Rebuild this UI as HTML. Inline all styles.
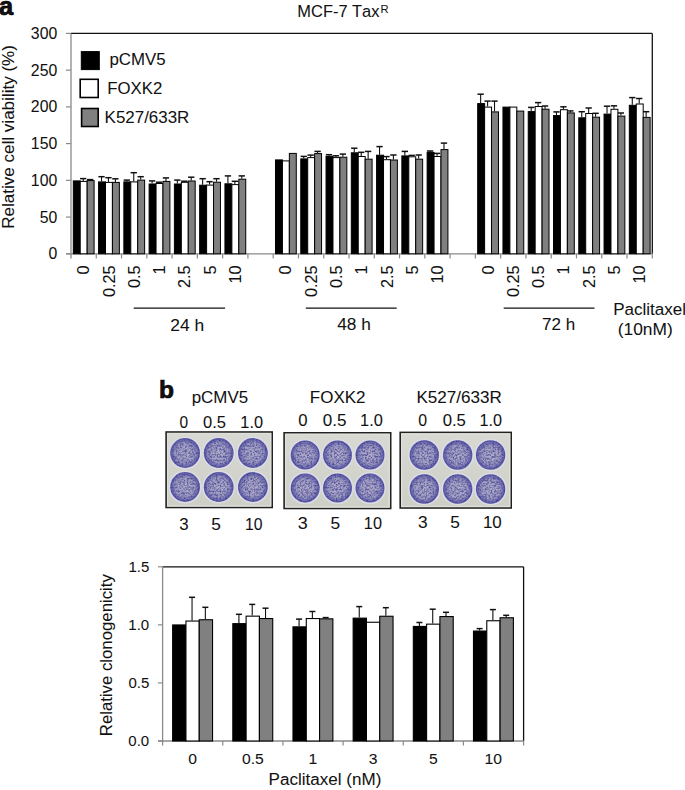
<!DOCTYPE html><html><head><meta charset="utf-8"><style>
html,body{margin:0;padding:0;background:#fff;}body{width:685px;height:790px;overflow:hidden;}
svg{display:block;} text{font-family:"Liberation Sans", sans-serif;font-kerning:none;fill:#111;stroke:#111;stroke-width:0.05px;}
</style></head><body>
<svg width="685" height="790" viewBox="0 0 685 790">
<defs>
<radialGradient id="well" cx="50%" cy="50%" r="50%">
<stop offset="0%" stop-color="#b2b1cb"/>
<stop offset="65%" stop-color="#a3a2c4"/>
<stop offset="100%" stop-color="#8a89b8"/>
</radialGradient>
<radialGradient id="rim" cx="50%" cy="50%" r="50%">
<stop offset="0%" stop-color="#3c3a96" stop-opacity="0"/>
<stop offset="65%" stop-color="#3c3a96" stop-opacity="0.05"/>
<stop offset="88%" stop-color="#3c3a96" stop-opacity="0.4"/>
<stop offset="96%" stop-color="#36349a" stop-opacity="0.6"/>
<stop offset="100%" stop-color="#5050a0" stop-opacity="0.4"/>
</radialGradient>
<linearGradient id="plate" x1="0" y1="0" x2="0" y2="1">
<stop offset="0%" stop-color="#d8d9d2"/>
<stop offset="100%" stop-color="#cdcfc7"/>
</linearGradient>
<filter id="spk" x="0" y="0" width="100%" height="100%" color-interpolation-filters="sRGB">
<feTurbulence type="fractalNoise" baseFrequency="0.55" numOctaves="3" seed="11" result="n"/>
<feColorMatrix in="n" type="matrix" values="0 0 0 0 0.34  0 0 0 0 0.32  0 0 0 0 0.60  2.5 0 0 0 -0.95" result="w"/>
<feGaussianBlur in="w" stdDeviation="0.35" result="wb"/>
<feComposite in="wb" in2="SourceGraphic" operator="in"/>
</filter>
</defs>
<text x="-0.9" y="14.8" font-size="25.5" font-weight="bold" fill="#000" style="stroke:#000;stroke-width:0.7px">a</text>
<text transform="translate(297.35,17.30) scale(1.0395,1)" font-size="15.8">MCF-7 Tax</text>
<text x="380.6" y="12.7" font-size="11.2">R</text>
<line x1="71.0" y1="33.4" x2="652.3" y2="33.4" stroke="#111" stroke-width="1.3"/>
<line x1="652.3" y1="33.4" x2="652.3" y2="253.8" stroke="#111" stroke-width="1.3"/>
<line x1="66" y1="253.80" x2="71.0" y2="253.80" stroke="#8a8a8a" stroke-width="1.2"/>
<text transform="translate(48.43,259.40) scale(1.0000,1)" font-size="15.8">0</text>
<line x1="66" y1="217.07" x2="71.0" y2="217.07" stroke="#8a8a8a" stroke-width="1.2"/>
<text transform="translate(39.64,222.67) scale(1.0000,1)" font-size="15.8">50</text>
<line x1="66" y1="180.33" x2="71.0" y2="180.33" stroke="#8a8a8a" stroke-width="1.2"/>
<text transform="translate(30.86,185.93) scale(1.0000,1)" font-size="15.8">100</text>
<line x1="66" y1="143.60" x2="71.0" y2="143.60" stroke="#8a8a8a" stroke-width="1.2"/>
<text transform="translate(30.86,149.20) scale(1.0000,1)" font-size="15.8">150</text>
<line x1="66" y1="106.87" x2="71.0" y2="106.87" stroke="#8a8a8a" stroke-width="1.2"/>
<text transform="translate(30.86,112.47) scale(1.0000,1)" font-size="15.8">200</text>
<line x1="66" y1="70.13" x2="71.0" y2="70.13" stroke="#8a8a8a" stroke-width="1.2"/>
<text transform="translate(30.86,75.73) scale(1.0000,1)" font-size="15.8">250</text>
<line x1="66" y1="33.40" x2="71.0" y2="33.40" stroke="#8a8a8a" stroke-width="1.2"/>
<text transform="translate(30.86,39.00) scale(1.0000,1)" font-size="15.8">300</text>
<line x1="66" y1="253.8" x2="652.3" y2="253.8" stroke="#8a8a8a" stroke-width="1.3"/>
<line x1="71.0" y1="33.4" x2="71.0" y2="258.40000000000003" stroke="#8a8a8a" stroke-width="1.3"/>
<line x1="96.27" y1="253.8" x2="96.27" y2="258.40000000000003" stroke="#8a8a8a" stroke-width="1.2"/>
<line x1="121.55" y1="253.8" x2="121.55" y2="258.40000000000003" stroke="#8a8a8a" stroke-width="1.2"/>
<line x1="146.82" y1="253.8" x2="146.82" y2="258.40000000000003" stroke="#8a8a8a" stroke-width="1.2"/>
<line x1="172.10" y1="253.8" x2="172.10" y2="258.40000000000003" stroke="#8a8a8a" stroke-width="1.2"/>
<line x1="197.37" y1="253.8" x2="197.37" y2="258.40000000000003" stroke="#8a8a8a" stroke-width="1.2"/>
<line x1="222.64" y1="253.8" x2="222.64" y2="258.40000000000003" stroke="#8a8a8a" stroke-width="1.2"/>
<line x1="247.92" y1="253.8" x2="247.92" y2="258.40000000000003" stroke="#8a8a8a" stroke-width="1.2"/>
<line x1="273.19" y1="253.8" x2="273.19" y2="258.40000000000003" stroke="#8a8a8a" stroke-width="1.2"/>
<line x1="298.47" y1="253.8" x2="298.47" y2="258.40000000000003" stroke="#8a8a8a" stroke-width="1.2"/>
<line x1="323.74" y1="253.8" x2="323.74" y2="258.40000000000003" stroke="#8a8a8a" stroke-width="1.2"/>
<line x1="349.01" y1="253.8" x2="349.01" y2="258.40000000000003" stroke="#8a8a8a" stroke-width="1.2"/>
<line x1="374.29" y1="253.8" x2="374.29" y2="258.40000000000003" stroke="#8a8a8a" stroke-width="1.2"/>
<line x1="399.56" y1="253.8" x2="399.56" y2="258.40000000000003" stroke="#8a8a8a" stroke-width="1.2"/>
<line x1="424.83" y1="253.8" x2="424.83" y2="258.40000000000003" stroke="#8a8a8a" stroke-width="1.2"/>
<line x1="450.11" y1="253.8" x2="450.11" y2="258.40000000000003" stroke="#8a8a8a" stroke-width="1.2"/>
<line x1="475.38" y1="253.8" x2="475.38" y2="258.40000000000003" stroke="#8a8a8a" stroke-width="1.2"/>
<line x1="500.66" y1="253.8" x2="500.66" y2="258.40000000000003" stroke="#8a8a8a" stroke-width="1.2"/>
<line x1="525.93" y1="253.8" x2="525.93" y2="258.40000000000003" stroke="#8a8a8a" stroke-width="1.2"/>
<line x1="551.20" y1="253.8" x2="551.20" y2="258.40000000000003" stroke="#8a8a8a" stroke-width="1.2"/>
<line x1="576.48" y1="253.8" x2="576.48" y2="258.40000000000003" stroke="#8a8a8a" stroke-width="1.2"/>
<line x1="601.75" y1="253.8" x2="601.75" y2="258.40000000000003" stroke="#8a8a8a" stroke-width="1.2"/>
<line x1="627.03" y1="253.8" x2="627.03" y2="258.40000000000003" stroke="#8a8a8a" stroke-width="1.2"/>
<line x1="652.30" y1="253.8" x2="652.30" y2="258.40000000000003" stroke="#8a8a8a" stroke-width="1.2"/>
<rect x="73.30" y="180.90" width="6.93" height="72.90" fill="#000000" stroke="#000" stroke-width="1.0"/>
<line x1="83.19" y1="180.90" x2="83.19" y2="178.60" stroke="#111" stroke-width="1.1"/>
<line x1="80.04" y1="178.60" x2="86.34" y2="178.60" stroke="#111" stroke-width="1.5"/>
<rect x="80.23" y="181.40" width="6.93" height="72.40" fill="#ffffff" stroke="#000" stroke-width="1.0"/>
<line x1="90.12" y1="180.10" x2="90.12" y2="179.60" stroke="#111" stroke-width="1.1"/>
<line x1="86.97" y1="179.60" x2="93.28" y2="179.60" stroke="#111" stroke-width="1.5"/>
<rect x="87.16" y="180.60" width="6.93" height="73.20" fill="#808080" stroke="#000" stroke-width="1.0"/>
<line x1="101.54" y1="181.40" x2="101.54" y2="176.70" stroke="#111" stroke-width="1.1"/>
<line x1="98.39" y1="176.70" x2="104.69" y2="176.70" stroke="#111" stroke-width="1.5"/>
<rect x="98.57" y="181.90" width="6.93" height="71.90" fill="#000000" stroke="#000" stroke-width="1.0"/>
<line x1="108.47" y1="181.90" x2="108.47" y2="177.70" stroke="#111" stroke-width="1.1"/>
<line x1="105.32" y1="177.70" x2="111.62" y2="177.70" stroke="#111" stroke-width="1.5"/>
<rect x="105.50" y="182.40" width="6.93" height="71.40" fill="#ffffff" stroke="#000" stroke-width="1.0"/>
<line x1="115.40" y1="181.90" x2="115.40" y2="178.80" stroke="#111" stroke-width="1.1"/>
<line x1="112.25" y1="178.80" x2="118.55" y2="178.80" stroke="#111" stroke-width="1.5"/>
<rect x="112.43" y="182.40" width="6.93" height="71.40" fill="#808080" stroke="#000" stroke-width="1.0"/>
<line x1="126.81" y1="181.40" x2="126.81" y2="180.10" stroke="#111" stroke-width="1.1"/>
<line x1="123.66" y1="180.10" x2="129.96" y2="180.10" stroke="#111" stroke-width="1.5"/>
<rect x="123.85" y="181.90" width="6.93" height="71.90" fill="#000000" stroke="#000" stroke-width="1.0"/>
<line x1="133.74" y1="181.40" x2="133.74" y2="172.70" stroke="#111" stroke-width="1.1"/>
<line x1="130.59" y1="172.70" x2="136.89" y2="172.70" stroke="#111" stroke-width="1.5"/>
<rect x="130.78" y="181.90" width="6.93" height="71.90" fill="#ffffff" stroke="#000" stroke-width="1.0"/>
<line x1="140.67" y1="179.60" x2="140.67" y2="176.70" stroke="#111" stroke-width="1.1"/>
<line x1="137.52" y1="176.70" x2="143.82" y2="176.70" stroke="#111" stroke-width="1.5"/>
<rect x="137.71" y="180.10" width="6.93" height="73.70" fill="#808080" stroke="#000" stroke-width="1.0"/>
<line x1="152.09" y1="183.50" x2="152.09" y2="180.90" stroke="#111" stroke-width="1.1"/>
<line x1="148.94" y1="180.90" x2="155.24" y2="180.90" stroke="#111" stroke-width="1.5"/>
<rect x="149.12" y="184.00" width="6.93" height="69.80" fill="#000000" stroke="#000" stroke-width="1.0"/>
<line x1="159.02" y1="183.00" x2="159.02" y2="182.20" stroke="#111" stroke-width="1.1"/>
<line x1="155.87" y1="182.20" x2="162.17" y2="182.20" stroke="#111" stroke-width="1.5"/>
<rect x="156.05" y="183.50" width="6.93" height="70.30" fill="#ffffff" stroke="#000" stroke-width="1.0"/>
<line x1="165.95" y1="180.90" x2="165.95" y2="177.90" stroke="#111" stroke-width="1.1"/>
<line x1="162.80" y1="177.90" x2="169.10" y2="177.90" stroke="#111" stroke-width="1.5"/>
<rect x="162.98" y="181.40" width="6.93" height="72.40" fill="#808080" stroke="#000" stroke-width="1.0"/>
<line x1="177.36" y1="183.50" x2="177.36" y2="180.10" stroke="#111" stroke-width="1.1"/>
<line x1="174.21" y1="180.10" x2="180.51" y2="180.10" stroke="#111" stroke-width="1.5"/>
<rect x="174.40" y="184.00" width="6.93" height="69.80" fill="#000000" stroke="#000" stroke-width="1.0"/>
<line x1="184.29" y1="181.80" x2="184.29" y2="181.20" stroke="#111" stroke-width="1.1"/>
<line x1="181.14" y1="181.20" x2="187.44" y2="181.20" stroke="#111" stroke-width="1.5"/>
<rect x="181.33" y="182.30" width="6.93" height="71.50" fill="#ffffff" stroke="#000" stroke-width="1.0"/>
<line x1="191.22" y1="180.50" x2="191.22" y2="177.20" stroke="#111" stroke-width="1.1"/>
<line x1="188.07" y1="177.20" x2="194.37" y2="177.20" stroke="#111" stroke-width="1.5"/>
<rect x="188.26" y="181.00" width="6.93" height="72.80" fill="#808080" stroke="#000" stroke-width="1.0"/>
<line x1="202.63" y1="184.70" x2="202.63" y2="178.70" stroke="#111" stroke-width="1.1"/>
<line x1="199.48" y1="178.70" x2="205.78" y2="178.70" stroke="#111" stroke-width="1.5"/>
<rect x="199.67" y="185.20" width="6.93" height="68.60" fill="#000000" stroke="#000" stroke-width="1.0"/>
<line x1="209.56" y1="184.60" x2="209.56" y2="181.70" stroke="#111" stroke-width="1.1"/>
<line x1="206.41" y1="181.70" x2="212.71" y2="181.70" stroke="#111" stroke-width="1.5"/>
<rect x="206.60" y="185.10" width="6.93" height="68.70" fill="#ffffff" stroke="#000" stroke-width="1.0"/>
<line x1="216.49" y1="181.70" x2="216.49" y2="178.70" stroke="#111" stroke-width="1.1"/>
<line x1="213.34" y1="178.70" x2="219.64" y2="178.70" stroke="#111" stroke-width="1.5"/>
<rect x="213.53" y="182.20" width="6.93" height="71.60" fill="#808080" stroke="#000" stroke-width="1.0"/>
<line x1="227.91" y1="183.30" x2="227.91" y2="175.90" stroke="#111" stroke-width="1.1"/>
<line x1="224.76" y1="175.90" x2="231.06" y2="175.90" stroke="#111" stroke-width="1.5"/>
<rect x="224.94" y="183.80" width="6.93" height="70.00" fill="#000000" stroke="#000" stroke-width="1.0"/>
<line x1="234.84" y1="184.10" x2="234.84" y2="181.30" stroke="#111" stroke-width="1.1"/>
<line x1="231.69" y1="181.30" x2="237.99" y2="181.30" stroke="#111" stroke-width="1.5"/>
<rect x="231.87" y="184.60" width="6.93" height="69.20" fill="#ffffff" stroke="#000" stroke-width="1.0"/>
<line x1="241.77" y1="178.70" x2="241.77" y2="175.90" stroke="#111" stroke-width="1.1"/>
<line x1="238.62" y1="175.90" x2="244.92" y2="175.90" stroke="#111" stroke-width="1.5"/>
<rect x="238.80" y="179.20" width="6.93" height="74.60" fill="#808080" stroke="#000" stroke-width="1.0"/>
<rect x="275.49" y="159.90" width="6.93" height="93.90" fill="#000000" stroke="#000" stroke-width="1.0"/>
<rect x="282.42" y="160.90" width="6.93" height="92.90" fill="#ffffff" stroke="#000" stroke-width="1.0"/>
<rect x="289.35" y="153.40" width="6.93" height="100.40" fill="#808080" stroke="#000" stroke-width="1.0"/>
<line x1="303.73" y1="158.40" x2="303.73" y2="156.40" stroke="#111" stroke-width="1.1"/>
<line x1="300.58" y1="156.40" x2="306.88" y2="156.40" stroke="#111" stroke-width="1.5"/>
<rect x="300.77" y="158.90" width="6.93" height="94.90" fill="#000000" stroke="#000" stroke-width="1.0"/>
<line x1="310.66" y1="157.10" x2="310.66" y2="155.10" stroke="#111" stroke-width="1.1"/>
<line x1="307.51" y1="155.10" x2="313.81" y2="155.10" stroke="#111" stroke-width="1.5"/>
<rect x="307.70" y="157.60" width="6.93" height="96.20" fill="#ffffff" stroke="#000" stroke-width="1.0"/>
<line x1="317.59" y1="153.10" x2="317.59" y2="151.40" stroke="#111" stroke-width="1.1"/>
<line x1="314.44" y1="151.40" x2="320.74" y2="151.40" stroke="#111" stroke-width="1.5"/>
<rect x="314.63" y="153.60" width="6.93" height="100.20" fill="#808080" stroke="#000" stroke-width="1.0"/>
<line x1="329.00" y1="155.80" x2="329.00" y2="154.70" stroke="#111" stroke-width="1.1"/>
<line x1="325.85" y1="154.70" x2="332.15" y2="154.70" stroke="#111" stroke-width="1.5"/>
<rect x="326.04" y="156.30" width="6.93" height="97.50" fill="#000000" stroke="#000" stroke-width="1.0"/>
<line x1="335.93" y1="157.10" x2="335.93" y2="155.80" stroke="#111" stroke-width="1.1"/>
<line x1="332.78" y1="155.80" x2="339.08" y2="155.80" stroke="#111" stroke-width="1.5"/>
<rect x="332.97" y="157.60" width="6.93" height="96.20" fill="#ffffff" stroke="#000" stroke-width="1.0"/>
<line x1="342.86" y1="156.70" x2="342.86" y2="154.10" stroke="#111" stroke-width="1.1"/>
<line x1="339.71" y1="154.10" x2="346.01" y2="154.10" stroke="#111" stroke-width="1.5"/>
<rect x="339.90" y="157.20" width="6.93" height="96.60" fill="#808080" stroke="#000" stroke-width="1.0"/>
<line x1="354.28" y1="152.30" x2="354.28" y2="148.20" stroke="#111" stroke-width="1.1"/>
<line x1="351.13" y1="148.20" x2="357.43" y2="148.20" stroke="#111" stroke-width="1.5"/>
<rect x="351.31" y="152.80" width="6.93" height="101.00" fill="#000000" stroke="#000" stroke-width="1.0"/>
<line x1="361.21" y1="156.00" x2="361.21" y2="152.30" stroke="#111" stroke-width="1.1"/>
<line x1="358.06" y1="152.30" x2="364.36" y2="152.30" stroke="#111" stroke-width="1.5"/>
<rect x="358.24" y="156.50" width="6.93" height="97.30" fill="#ffffff" stroke="#000" stroke-width="1.0"/>
<line x1="368.14" y1="158.70" x2="368.14" y2="151.40" stroke="#111" stroke-width="1.1"/>
<line x1="364.99" y1="151.40" x2="371.29" y2="151.40" stroke="#111" stroke-width="1.5"/>
<rect x="365.17" y="159.20" width="6.93" height="94.60" fill="#808080" stroke="#000" stroke-width="1.0"/>
<line x1="379.55" y1="154.70" x2="379.55" y2="146.60" stroke="#111" stroke-width="1.1"/>
<line x1="376.40" y1="146.60" x2="382.70" y2="146.60" stroke="#111" stroke-width="1.5"/>
<rect x="376.59" y="155.20" width="6.93" height="98.60" fill="#000000" stroke="#000" stroke-width="1.0"/>
<line x1="386.48" y1="159.20" x2="386.48" y2="156.60" stroke="#111" stroke-width="1.1"/>
<line x1="383.33" y1="156.60" x2="389.63" y2="156.60" stroke="#111" stroke-width="1.5"/>
<rect x="383.52" y="159.70" width="6.93" height="94.10" fill="#ffffff" stroke="#000" stroke-width="1.0"/>
<line x1="393.41" y1="159.50" x2="393.41" y2="155.00" stroke="#111" stroke-width="1.1"/>
<line x1="390.26" y1="155.00" x2="396.56" y2="155.00" stroke="#111" stroke-width="1.5"/>
<rect x="390.45" y="160.00" width="6.93" height="93.80" fill="#808080" stroke="#000" stroke-width="1.0"/>
<line x1="404.83" y1="155.40" x2="404.83" y2="151.40" stroke="#111" stroke-width="1.1"/>
<line x1="401.68" y1="151.40" x2="407.98" y2="151.40" stroke="#111" stroke-width="1.5"/>
<rect x="401.86" y="155.90" width="6.93" height="97.90" fill="#000000" stroke="#000" stroke-width="1.0"/>
<line x1="411.76" y1="156.30" x2="411.76" y2="155.40" stroke="#111" stroke-width="1.1"/>
<line x1="408.61" y1="155.40" x2="414.91" y2="155.40" stroke="#111" stroke-width="1.5"/>
<rect x="408.79" y="156.80" width="6.93" height="97.00" fill="#ffffff" stroke="#000" stroke-width="1.0"/>
<line x1="418.69" y1="158.70" x2="418.69" y2="155.00" stroke="#111" stroke-width="1.1"/>
<line x1="415.54" y1="155.00" x2="421.84" y2="155.00" stroke="#111" stroke-width="1.5"/>
<rect x="415.72" y="159.20" width="6.93" height="94.60" fill="#808080" stroke="#000" stroke-width="1.0"/>
<line x1="430.10" y1="151.90" x2="430.10" y2="151.00" stroke="#111" stroke-width="1.1"/>
<line x1="426.95" y1="151.00" x2="433.25" y2="151.00" stroke="#111" stroke-width="1.5"/>
<rect x="427.13" y="152.40" width="6.93" height="101.40" fill="#000000" stroke="#000" stroke-width="1.0"/>
<line x1="437.03" y1="156.00" x2="437.03" y2="153.40" stroke="#111" stroke-width="1.1"/>
<line x1="433.88" y1="153.40" x2="440.18" y2="153.40" stroke="#111" stroke-width="1.5"/>
<rect x="434.06" y="156.50" width="6.93" height="97.30" fill="#ffffff" stroke="#000" stroke-width="1.0"/>
<line x1="443.96" y1="149.10" x2="443.96" y2="143.10" stroke="#111" stroke-width="1.1"/>
<line x1="440.81" y1="143.10" x2="447.11" y2="143.10" stroke="#111" stroke-width="1.5"/>
<rect x="440.99" y="149.60" width="6.93" height="104.20" fill="#808080" stroke="#000" stroke-width="1.0"/>
<line x1="480.65" y1="103.10" x2="480.65" y2="94.20" stroke="#111" stroke-width="1.1"/>
<line x1="477.50" y1="94.20" x2="483.80" y2="94.20" stroke="#111" stroke-width="1.5"/>
<rect x="477.68" y="103.60" width="6.93" height="150.20" fill="#000000" stroke="#000" stroke-width="1.0"/>
<line x1="487.58" y1="106.60" x2="487.58" y2="101.10" stroke="#111" stroke-width="1.1"/>
<line x1="484.43" y1="101.10" x2="490.73" y2="101.10" stroke="#111" stroke-width="1.5"/>
<rect x="484.61" y="107.10" width="6.93" height="146.70" fill="#ffffff" stroke="#000" stroke-width="1.0"/>
<line x1="494.51" y1="111.40" x2="494.51" y2="101.10" stroke="#111" stroke-width="1.1"/>
<line x1="491.36" y1="101.10" x2="497.66" y2="101.10" stroke="#111" stroke-width="1.5"/>
<rect x="491.54" y="111.90" width="6.93" height="141.90" fill="#808080" stroke="#000" stroke-width="1.0"/>
<rect x="502.96" y="107.10" width="6.93" height="146.70" fill="#000000" stroke="#000" stroke-width="1.0"/>
<rect x="509.89" y="107.10" width="6.93" height="146.70" fill="#ffffff" stroke="#000" stroke-width="1.0"/>
<rect x="516.82" y="111.10" width="6.93" height="142.70" fill="#808080" stroke="#000" stroke-width="1.0"/>
<line x1="531.20" y1="111.10" x2="531.20" y2="107.40" stroke="#111" stroke-width="1.1"/>
<line x1="528.05" y1="107.40" x2="534.35" y2="107.40" stroke="#111" stroke-width="1.5"/>
<rect x="528.23" y="111.60" width="6.93" height="142.20" fill="#000000" stroke="#000" stroke-width="1.0"/>
<line x1="538.13" y1="106.00" x2="538.13" y2="102.60" stroke="#111" stroke-width="1.1"/>
<line x1="534.98" y1="102.60" x2="541.28" y2="102.60" stroke="#111" stroke-width="1.5"/>
<rect x="535.16" y="106.50" width="6.93" height="147.30" fill="#ffffff" stroke="#000" stroke-width="1.0"/>
<line x1="545.06" y1="108.70" x2="545.06" y2="106.00" stroke="#111" stroke-width="1.1"/>
<line x1="541.91" y1="106.00" x2="548.21" y2="106.00" stroke="#111" stroke-width="1.5"/>
<rect x="542.09" y="109.20" width="6.93" height="144.60" fill="#808080" stroke="#000" stroke-width="1.0"/>
<line x1="556.47" y1="115.10" x2="556.47" y2="111.90" stroke="#111" stroke-width="1.1"/>
<line x1="553.32" y1="111.90" x2="559.62" y2="111.90" stroke="#111" stroke-width="1.5"/>
<rect x="553.50" y="115.60" width="6.93" height="138.20" fill="#000000" stroke="#000" stroke-width="1.0"/>
<line x1="563.40" y1="109.20" x2="563.40" y2="106.80" stroke="#111" stroke-width="1.1"/>
<line x1="560.25" y1="106.80" x2="566.55" y2="106.80" stroke="#111" stroke-width="1.5"/>
<rect x="560.43" y="109.70" width="6.93" height="144.10" fill="#ffffff" stroke="#000" stroke-width="1.0"/>
<line x1="570.33" y1="112.40" x2="570.33" y2="110.90" stroke="#111" stroke-width="1.1"/>
<line x1="567.18" y1="110.90" x2="573.48" y2="110.90" stroke="#111" stroke-width="1.5"/>
<rect x="567.36" y="112.90" width="6.93" height="140.90" fill="#808080" stroke="#000" stroke-width="1.0"/>
<line x1="581.74" y1="117.30" x2="581.74" y2="111.70" stroke="#111" stroke-width="1.1"/>
<line x1="578.59" y1="111.70" x2="584.89" y2="111.70" stroke="#111" stroke-width="1.5"/>
<rect x="578.78" y="117.80" width="6.93" height="136.00" fill="#000000" stroke="#000" stroke-width="1.0"/>
<line x1="588.67" y1="113.00" x2="588.67" y2="108.00" stroke="#111" stroke-width="1.1"/>
<line x1="585.52" y1="108.00" x2="591.82" y2="108.00" stroke="#111" stroke-width="1.5"/>
<rect x="585.71" y="113.50" width="6.93" height="140.30" fill="#ffffff" stroke="#000" stroke-width="1.0"/>
<line x1="595.60" y1="116.70" x2="595.60" y2="113.30" stroke="#111" stroke-width="1.1"/>
<line x1="592.45" y1="113.30" x2="598.75" y2="113.30" stroke="#111" stroke-width="1.5"/>
<rect x="592.64" y="117.20" width="6.93" height="136.60" fill="#808080" stroke="#000" stroke-width="1.0"/>
<line x1="607.02" y1="113.60" x2="607.02" y2="106.20" stroke="#111" stroke-width="1.1"/>
<line x1="603.87" y1="106.20" x2="610.17" y2="106.20" stroke="#111" stroke-width="1.5"/>
<rect x="604.05" y="114.10" width="6.93" height="139.70" fill="#000000" stroke="#000" stroke-width="1.0"/>
<line x1="613.95" y1="108.80" x2="613.95" y2="105.80" stroke="#111" stroke-width="1.1"/>
<line x1="610.80" y1="105.80" x2="617.10" y2="105.80" stroke="#111" stroke-width="1.5"/>
<rect x="610.98" y="109.30" width="6.93" height="144.50" fill="#ffffff" stroke="#000" stroke-width="1.0"/>
<line x1="620.88" y1="115.60" x2="620.88" y2="113.00" stroke="#111" stroke-width="1.1"/>
<line x1="617.73" y1="113.00" x2="624.03" y2="113.00" stroke="#111" stroke-width="1.5"/>
<rect x="617.91" y="116.10" width="6.93" height="137.70" fill="#808080" stroke="#000" stroke-width="1.0"/>
<line x1="632.29" y1="104.80" x2="632.29" y2="97.60" stroke="#111" stroke-width="1.1"/>
<line x1="629.14" y1="97.60" x2="635.44" y2="97.60" stroke="#111" stroke-width="1.5"/>
<rect x="629.33" y="105.30" width="6.93" height="148.50" fill="#000000" stroke="#000" stroke-width="1.0"/>
<line x1="639.22" y1="103.50" x2="639.22" y2="98.50" stroke="#111" stroke-width="1.1"/>
<line x1="636.07" y1="98.50" x2="642.37" y2="98.50" stroke="#111" stroke-width="1.5"/>
<rect x="636.26" y="104.00" width="6.93" height="149.80" fill="#ffffff" stroke="#000" stroke-width="1.0"/>
<line x1="646.15" y1="116.90" x2="646.15" y2="111.70" stroke="#111" stroke-width="1.1"/>
<line x1="643.00" y1="111.70" x2="649.30" y2="111.70" stroke="#111" stroke-width="1.5"/>
<rect x="643.19" y="117.40" width="6.93" height="136.40" fill="#808080" stroke="#000" stroke-width="1.0"/>
<rect x="81.3" y="51.6" width="18" height="18" fill="#000" stroke="#000" stroke-width="1"/>
<rect x="80.2" y="79.3" width="18" height="18.2" fill="#fff" stroke="#000" stroke-width="1.6"/>
<rect x="81.6" y="108.5" width="16.6" height="18" fill="#808080" stroke="#000" stroke-width="1.6"/>
<text transform="translate(109.41,64.90) scale(1.0403,1)" font-size="16.2">pCMV5</text>
<text transform="translate(107.22,94.40) scale(1.0358,1)" font-size="16.2">FOXK2</text>
<text transform="translate(104.61,123.20) scale(1.0330,1)" font-size="16.4">K527/633R</text>
<text transform="translate(13.5,136.9) rotate(-90)" font-size="16.6" text-anchor="middle" textLength="183.6" lengthAdjust="spacingAndGlyphs">Relative cell viability (%)</text>
<text transform="translate(89.24,265.4) rotate(-90)" font-size="16.3" text-anchor="end">0</text>
<text transform="translate(114.51,265.4) rotate(-90)" font-size="16.3" text-anchor="end">0.25</text>
<text transform="translate(139.78,265.4) rotate(-90)" font-size="16.3" text-anchor="end">0.5</text>
<text transform="translate(165.06,265.4) rotate(-90)" font-size="16.3" text-anchor="end">1</text>
<text transform="translate(190.33,265.4) rotate(-90)" font-size="16.3" text-anchor="end">2.5</text>
<text transform="translate(215.61,265.4) rotate(-90)" font-size="16.3" text-anchor="end">5</text>
<text transform="translate(240.88,265.4) rotate(-90)" font-size="16.3" text-anchor="end">10</text>
<text transform="translate(291.43,265.4) rotate(-90)" font-size="16.3" text-anchor="end">0</text>
<text transform="translate(316.70,265.4) rotate(-90)" font-size="16.3" text-anchor="end">0.25</text>
<text transform="translate(341.98,265.4) rotate(-90)" font-size="16.3" text-anchor="end">0.5</text>
<text transform="translate(367.25,265.4) rotate(-90)" font-size="16.3" text-anchor="end">1</text>
<text transform="translate(392.52,265.4) rotate(-90)" font-size="16.3" text-anchor="end">2.5</text>
<text transform="translate(417.80,265.4) rotate(-90)" font-size="16.3" text-anchor="end">5</text>
<text transform="translate(443.07,265.4) rotate(-90)" font-size="16.3" text-anchor="end">10</text>
<text transform="translate(493.62,265.4) rotate(-90)" font-size="16.3" text-anchor="end">0</text>
<text transform="translate(518.89,265.4) rotate(-90)" font-size="16.3" text-anchor="end">0.25</text>
<text transform="translate(544.17,265.4) rotate(-90)" font-size="16.3" text-anchor="end">0.5</text>
<text transform="translate(569.44,265.4) rotate(-90)" font-size="16.3" text-anchor="end">1</text>
<text transform="translate(594.72,265.4) rotate(-90)" font-size="16.3" text-anchor="end">2.5</text>
<text transform="translate(619.99,265.4) rotate(-90)" font-size="16.3" text-anchor="end">5</text>
<text transform="translate(645.26,265.4) rotate(-90)" font-size="16.3" text-anchor="end">10</text>
<line x1="133.7" y1="308.2" x2="225.1" y2="308.2" stroke="#111" stroke-width="1.3"/>
<line x1="305.8" y1="308.2" x2="396.7" y2="308.2" stroke="#111" stroke-width="1.3"/>
<line x1="503.7" y1="308.2" x2="594.5" y2="308.2" stroke="#111" stroke-width="1.3"/>
<text transform="translate(170.22,330.90) scale(1.0754,1)" font-size="16.2">24 h</text>
<text transform="translate(337.20,330.40) scale(1.0662,1)" font-size="16.2">48 h</text>
<text transform="translate(542.03,330.00) scale(1.0524,1)" font-size="16.2">72 h</text>
<text transform="translate(613.20,314.90) scale(1.0520,1)" font-size="16.2">Paclitaxel</text>
<text transform="translate(617.82,335.30) scale(1.0709,1)" font-size="16.2">(10nM)</text>
<text x="158.9" y="398.3" font-size="24.6" font-weight="bold" fill="#000" style="stroke:#000;stroke-width:0.7px">b</text>
<text transform="translate(191.71,402.70) scale(1.0571,1)" font-size="16.0">pCMV5</text>
<text transform="translate(309.81,403.10) scale(1.0627,1)" font-size="16.0">FOXK2</text>
<text transform="translate(416.40,402.70) scale(1.0666,1)" font-size="16.0">K527/633R</text>
<text transform="translate(179.40,428.00) scale(0.9736,1)" font-size="15.9">0</text>
<text transform="translate(203.06,428.00) scale(1.0377,1)" font-size="15.9">0.5</text>
<text transform="translate(240.36,428.00) scale(1.0261,1)" font-size="15.9">1.0</text>
<text transform="translate(298.25,426.20) scale(1.0525,1)" font-size="15.9">0</text>
<text transform="translate(322.73,426.20) scale(1.0714,1)" font-size="15.9">0.5</text>
<text transform="translate(360.06,426.20) scale(1.0261,1)" font-size="15.9">1.0</text>
<text transform="translate(418.18,425.60) scale(0.9999,1)" font-size="15.9">0</text>
<text transform="translate(442.65,425.60) scale(1.0522,1)" font-size="15.9">0.5</text>
<text transform="translate(479.46,425.60) scale(1.0212,1)" font-size="15.9">1.0</text>
<text transform="translate(179.16,530.00) scale(1.0226,1)" font-size="16.5">3</text>
<text transform="translate(211.21,530.00) scale(1.0482,1)" font-size="16.5">5</text>
<text transform="translate(244.90,530.00) scale(0.9543,1)" font-size="16.5">10</text>
<text transform="translate(297.82,528.70) scale(1.0865,1)" font-size="16.5">3</text>
<text transform="translate(330.41,528.70) scale(1.0482,1)" font-size="16.5">5</text>
<text transform="translate(363.86,528.70) scale(0.9847,1)" font-size="16.5">10</text>
<text transform="translate(418.04,528.00) scale(1.0482,1)" font-size="16.5">3</text>
<text transform="translate(450.21,528.00) scale(1.0482,1)" font-size="16.5">5</text>
<text transform="translate(482.91,528.00) scale(1.0273,1)" font-size="16.5">10</text>
<rect x="166.10000000000002" y="432.0" width="106.1" height="75.5" fill="url(#plate)" stroke="#222" stroke-width="1.6"/>
<rect x="167.60000000000002" y="433.5" width="103.1" height="72.5" fill="none" stroke="#e1e1dc" stroke-width="1.2"/>
<circle cx="185.1" cy="453.0" r="16.5" fill="#dcdce4"/>
<circle cx="185.1" cy="453.0" r="14.9" fill="url(#well)"/>
<circle cx="218.7" cy="453.0" r="16.5" fill="#dcdce4"/>
<circle cx="218.7" cy="453.0" r="14.9" fill="url(#well)"/>
<circle cx="252.9" cy="453.0" r="16.5" fill="#dcdce4"/>
<circle cx="252.9" cy="453.0" r="14.9" fill="url(#well)"/>
<circle cx="185.1" cy="487.0" r="16.5" fill="#dcdce4"/>
<circle cx="185.1" cy="487.0" r="14.9" fill="url(#well)"/>
<circle cx="218.7" cy="487.0" r="16.5" fill="#dcdce4"/>
<circle cx="218.7" cy="487.0" r="14.9" fill="url(#well)"/>
<circle cx="252.9" cy="487.0" r="16.5" fill="#dcdce4"/>
<circle cx="252.9" cy="487.0" r="14.9" fill="url(#well)"/>
<g filter="url(#spk)">
<circle cx="185.1" cy="453.0" r="14.6" fill="#000"/>
<circle cx="218.7" cy="453.0" r="14.6" fill="#000"/>
<circle cx="252.9" cy="453.0" r="14.6" fill="#000"/>
<circle cx="185.1" cy="487.0" r="14.6" fill="#000"/>
<circle cx="218.7" cy="487.0" r="14.6" fill="#000"/>
<circle cx="252.9" cy="487.0" r="14.6" fill="#000"/>
</g>
<circle cx="185.1" cy="453.0" r="14.9" fill="url(#rim)"/>
<circle cx="218.7" cy="453.0" r="14.9" fill="url(#rim)"/>
<circle cx="252.9" cy="453.0" r="14.9" fill="url(#rim)"/>
<circle cx="185.1" cy="487.0" r="14.9" fill="url(#rim)"/>
<circle cx="218.7" cy="487.0" r="14.9" fill="url(#rim)"/>
<circle cx="252.9" cy="487.0" r="14.9" fill="url(#rim)"/>
<rect x="284.1" y="432.8" width="106.6" height="75.7" fill="url(#plate)" stroke="#222" stroke-width="1.6"/>
<rect x="285.6" y="434.3" width="103.6" height="72.7" fill="none" stroke="#e1e1dc" stroke-width="1.2"/>
<circle cx="305.2" cy="455.0" r="16.1" fill="#dcdce4"/>
<circle cx="305.2" cy="455.0" r="14.5" fill="url(#well)"/>
<circle cx="337.5" cy="455.0" r="16.1" fill="#dcdce4"/>
<circle cx="337.5" cy="455.0" r="14.5" fill="url(#well)"/>
<circle cx="370.0" cy="455.0" r="16.1" fill="#dcdce4"/>
<circle cx="370.0" cy="455.0" r="14.5" fill="url(#well)"/>
<circle cx="305.2" cy="488.0" r="16.1" fill="#dcdce4"/>
<circle cx="305.2" cy="488.0" r="14.5" fill="url(#well)"/>
<circle cx="337.5" cy="488.0" r="16.1" fill="#dcdce4"/>
<circle cx="337.5" cy="488.0" r="14.5" fill="url(#well)"/>
<circle cx="370.0" cy="488.0" r="16.1" fill="#dcdce4"/>
<circle cx="370.0" cy="488.0" r="14.5" fill="url(#well)"/>
<g filter="url(#spk)">
<circle cx="305.2" cy="455.0" r="14.2" fill="#000"/>
<circle cx="337.5" cy="455.0" r="14.2" fill="#000"/>
<circle cx="370.0" cy="455.0" r="14.2" fill="#000"/>
<circle cx="305.2" cy="488.0" r="14.2" fill="#000"/>
<circle cx="337.5" cy="488.0" r="14.2" fill="#000"/>
<circle cx="370.0" cy="488.0" r="14.2" fill="#000"/>
</g>
<circle cx="305.2" cy="455.0" r="14.5" fill="url(#rim)"/>
<circle cx="337.5" cy="455.0" r="14.5" fill="url(#rim)"/>
<circle cx="370.0" cy="455.0" r="14.5" fill="url(#rim)"/>
<circle cx="305.2" cy="488.0" r="14.5" fill="url(#rim)"/>
<circle cx="337.5" cy="488.0" r="14.5" fill="url(#rim)"/>
<circle cx="370.0" cy="488.0" r="14.5" fill="url(#rim)"/>
<rect x="400.2" y="432.40000000000003" width="111.0" height="75.6" fill="url(#plate)" stroke="#222" stroke-width="1.6"/>
<rect x="401.7" y="433.90000000000003" width="108.0" height="72.6" fill="none" stroke="#e1e1dc" stroke-width="1.2"/>
<circle cx="424.3" cy="455.0" r="16.3" fill="#dcdce4"/>
<circle cx="424.3" cy="455.0" r="14.7" fill="url(#well)"/>
<circle cx="457.7" cy="455.0" r="16.3" fill="#dcdce4"/>
<circle cx="457.7" cy="455.0" r="14.7" fill="url(#well)"/>
<circle cx="490.6" cy="455.0" r="16.3" fill="#dcdce4"/>
<circle cx="490.6" cy="455.0" r="14.7" fill="url(#well)"/>
<circle cx="424.3" cy="489.0" r="16.3" fill="#dcdce4"/>
<circle cx="424.3" cy="489.0" r="14.7" fill="url(#well)"/>
<circle cx="457.7" cy="489.0" r="16.3" fill="#dcdce4"/>
<circle cx="457.7" cy="489.0" r="14.7" fill="url(#well)"/>
<circle cx="490.6" cy="489.0" r="16.3" fill="#dcdce4"/>
<circle cx="490.6" cy="489.0" r="14.7" fill="url(#well)"/>
<g filter="url(#spk)">
<circle cx="424.3" cy="455.0" r="14.399999999999999" fill="#000"/>
<circle cx="457.7" cy="455.0" r="14.399999999999999" fill="#000"/>
<circle cx="490.6" cy="455.0" r="14.399999999999999" fill="#000"/>
<circle cx="424.3" cy="489.0" r="14.399999999999999" fill="#000"/>
<circle cx="457.7" cy="489.0" r="14.399999999999999" fill="#000"/>
<circle cx="490.6" cy="489.0" r="14.399999999999999" fill="#000"/>
</g>
<circle cx="424.3" cy="455.0" r="14.7" fill="url(#rim)"/>
<circle cx="457.7" cy="455.0" r="14.7" fill="url(#rim)"/>
<circle cx="490.6" cy="455.0" r="14.7" fill="url(#rim)"/>
<circle cx="424.3" cy="489.0" r="14.7" fill="url(#rim)"/>
<circle cx="457.7" cy="489.0" r="14.7" fill="url(#rim)"/>
<circle cx="490.6" cy="489.0" r="14.7" fill="url(#rim)"/>
<line x1="162.6" y1="566.8" x2="523.6" y2="566.8" stroke="#111" stroke-width="1.3"/>
<line x1="523.6" y1="566.8" x2="523.6" y2="741.0" stroke="#111" stroke-width="1.3"/>
<line x1="158" y1="741.00" x2="162.6" y2="741.00" stroke="#8a8a8a" stroke-width="1.2"/>
<text transform="translate(128.33,746.30) scale(1.0000,1)" font-size="15.0">0.0</text>
<line x1="158" y1="682.93" x2="162.6" y2="682.93" stroke="#8a8a8a" stroke-width="1.2"/>
<text transform="translate(128.38,688.23) scale(1.0000,1)" font-size="15.0">0.5</text>
<line x1="158" y1="624.87" x2="162.6" y2="624.87" stroke="#8a8a8a" stroke-width="1.2"/>
<text transform="translate(128.33,630.17) scale(1.0000,1)" font-size="15.0">1.0</text>
<line x1="158" y1="566.80" x2="162.6" y2="566.80" stroke="#8a8a8a" stroke-width="1.2"/>
<text transform="translate(128.38,572.10) scale(1.0000,1)" font-size="15.0">1.5</text>
<line x1="158" y1="741.0" x2="523.6" y2="741.0" stroke="#8a8a8a" stroke-width="1.3"/>
<line x1="162.6" y1="566.8" x2="162.6" y2="745.5" stroke="#8a8a8a" stroke-width="1.3"/>
<line x1="222.77" y1="741.0" x2="222.77" y2="745.5" stroke="#8a8a8a" stroke-width="1.2"/>
<line x1="282.93" y1="741.0" x2="282.93" y2="745.5" stroke="#8a8a8a" stroke-width="1.2"/>
<line x1="343.10" y1="741.0" x2="343.10" y2="745.5" stroke="#8a8a8a" stroke-width="1.2"/>
<line x1="403.27" y1="741.0" x2="403.27" y2="745.5" stroke="#8a8a8a" stroke-width="1.2"/>
<line x1="463.43" y1="741.0" x2="463.43" y2="745.5" stroke="#8a8a8a" stroke-width="1.2"/>
<line x1="523.60" y1="741.0" x2="523.60" y2="745.5" stroke="#8a8a8a" stroke-width="1.2"/>
<rect x="172.65" y="624.95" width="13.30" height="116.05" fill="#000000" stroke="#000" stroke-width="1.1"/>
<line x1="192.05" y1="620.50" x2="192.05" y2="597.30" stroke="#111" stroke-width="1.1"/>
<line x1="189.05" y1="597.30" x2="195.05" y2="597.30" stroke="#111" stroke-width="1.5"/>
<rect x="185.95" y="621.05" width="13.30" height="119.95" fill="#ffffff" stroke="#000" stroke-width="1.1"/>
<line x1="205.35" y1="619.20" x2="205.35" y2="607.30" stroke="#111" stroke-width="1.1"/>
<line x1="202.35" y1="607.30" x2="208.35" y2="607.30" stroke="#111" stroke-width="1.5"/>
<rect x="199.25" y="619.75" width="13.30" height="121.25" fill="#808080" stroke="#000" stroke-width="1.1"/>
<line x1="238.92" y1="623.10" x2="238.92" y2="614.30" stroke="#111" stroke-width="1.1"/>
<line x1="235.92" y1="614.30" x2="241.92" y2="614.30" stroke="#111" stroke-width="1.5"/>
<rect x="232.82" y="623.65" width="13.30" height="117.35" fill="#000000" stroke="#000" stroke-width="1.1"/>
<line x1="252.22" y1="615.60" x2="252.22" y2="604.40" stroke="#111" stroke-width="1.1"/>
<line x1="249.22" y1="604.40" x2="255.22" y2="604.40" stroke="#111" stroke-width="1.5"/>
<rect x="246.12" y="616.15" width="13.30" height="124.85" fill="#ffffff" stroke="#000" stroke-width="1.1"/>
<line x1="265.52" y1="618.00" x2="265.52" y2="608.20" stroke="#111" stroke-width="1.1"/>
<line x1="262.52" y1="608.20" x2="268.52" y2="608.20" stroke="#111" stroke-width="1.5"/>
<rect x="259.42" y="618.55" width="13.30" height="122.45" fill="#808080" stroke="#000" stroke-width="1.1"/>
<line x1="299.08" y1="626.30" x2="299.08" y2="619.10" stroke="#111" stroke-width="1.1"/>
<line x1="296.08" y1="619.10" x2="302.08" y2="619.10" stroke="#111" stroke-width="1.5"/>
<rect x="292.98" y="626.85" width="13.30" height="114.15" fill="#000000" stroke="#000" stroke-width="1.1"/>
<line x1="312.38" y1="618.00" x2="312.38" y2="611.50" stroke="#111" stroke-width="1.1"/>
<line x1="309.38" y1="611.50" x2="315.38" y2="611.50" stroke="#111" stroke-width="1.5"/>
<rect x="306.28" y="618.55" width="13.30" height="122.45" fill="#ffffff" stroke="#000" stroke-width="1.1"/>
<line x1="325.68" y1="618.30" x2="325.68" y2="617.60" stroke="#111" stroke-width="1.1"/>
<line x1="322.68" y1="617.60" x2="328.68" y2="617.60" stroke="#111" stroke-width="1.5"/>
<rect x="319.58" y="618.85" width="13.30" height="122.15" fill="#808080" stroke="#000" stroke-width="1.1"/>
<line x1="359.25" y1="617.60" x2="359.25" y2="606.60" stroke="#111" stroke-width="1.1"/>
<line x1="356.25" y1="606.60" x2="362.25" y2="606.60" stroke="#111" stroke-width="1.5"/>
<rect x="353.15" y="618.15" width="13.30" height="122.85" fill="#000000" stroke="#000" stroke-width="1.1"/>
<rect x="366.45" y="622.25" width="13.30" height="118.75" fill="#ffffff" stroke="#000" stroke-width="1.1"/>
<line x1="385.85" y1="615.70" x2="385.85" y2="607.70" stroke="#111" stroke-width="1.1"/>
<line x1="382.85" y1="607.70" x2="388.85" y2="607.70" stroke="#111" stroke-width="1.5"/>
<rect x="379.75" y="616.25" width="13.30" height="124.75" fill="#808080" stroke="#000" stroke-width="1.1"/>
<line x1="419.42" y1="625.90" x2="419.42" y2="622.50" stroke="#111" stroke-width="1.1"/>
<line x1="416.42" y1="622.50" x2="422.42" y2="622.50" stroke="#111" stroke-width="1.5"/>
<rect x="413.32" y="626.45" width="13.30" height="114.55" fill="#000000" stroke="#000" stroke-width="1.1"/>
<line x1="432.72" y1="623.60" x2="432.72" y2="609.20" stroke="#111" stroke-width="1.1"/>
<line x1="429.72" y1="609.20" x2="435.72" y2="609.20" stroke="#111" stroke-width="1.5"/>
<rect x="426.62" y="624.15" width="13.30" height="116.85" fill="#ffffff" stroke="#000" stroke-width="1.1"/>
<line x1="446.02" y1="616.00" x2="446.02" y2="612.30" stroke="#111" stroke-width="1.1"/>
<line x1="443.02" y1="612.30" x2="449.02" y2="612.30" stroke="#111" stroke-width="1.5"/>
<rect x="439.92" y="616.55" width="13.30" height="124.45" fill="#808080" stroke="#000" stroke-width="1.1"/>
<line x1="479.58" y1="630.50" x2="479.58" y2="628.60" stroke="#111" stroke-width="1.1"/>
<line x1="476.58" y1="628.60" x2="482.58" y2="628.60" stroke="#111" stroke-width="1.5"/>
<rect x="473.48" y="631.05" width="13.30" height="109.95" fill="#000000" stroke="#000" stroke-width="1.1"/>
<line x1="492.88" y1="620.20" x2="492.88" y2="609.60" stroke="#111" stroke-width="1.1"/>
<line x1="489.88" y1="609.60" x2="495.88" y2="609.60" stroke="#111" stroke-width="1.5"/>
<rect x="486.78" y="620.75" width="13.30" height="120.25" fill="#ffffff" stroke="#000" stroke-width="1.1"/>
<line x1="506.18" y1="617.20" x2="506.18" y2="615.30" stroke="#111" stroke-width="1.1"/>
<line x1="503.18" y1="615.30" x2="509.18" y2="615.30" stroke="#111" stroke-width="1.5"/>
<rect x="500.08" y="617.75" width="13.30" height="123.25" fill="#808080" stroke="#000" stroke-width="1.1"/>
<text transform="translate(188.32,764.30) scale(1.0600,1)" font-size="14.8">0</text>
<text transform="translate(241.97,764.30) scale(1.0600,1)" font-size="14.8">0.5</text>
<text transform="translate(308.44,764.30) scale(1.0600,1)" font-size="14.8">1</text>
<text transform="translate(368.87,764.30) scale(1.0600,1)" font-size="14.8">3</text>
<text transform="translate(429.00,764.30) scale(1.0600,1)" font-size="14.8">5</text>
<text transform="translate(484.50,764.30) scale(1.0600,1)" font-size="14.8">10</text>
<text transform="translate(268.60,784.70) scale(1.0407,1)" font-size="16.4">Paclitaxel (nM)</text>
<text transform="translate(112.2,655.2) rotate(-90)" font-size="16.6" text-anchor="middle" textLength="162" lengthAdjust="spacingAndGlyphs">Relative clonogenicity</text>
</svg></body></html>
